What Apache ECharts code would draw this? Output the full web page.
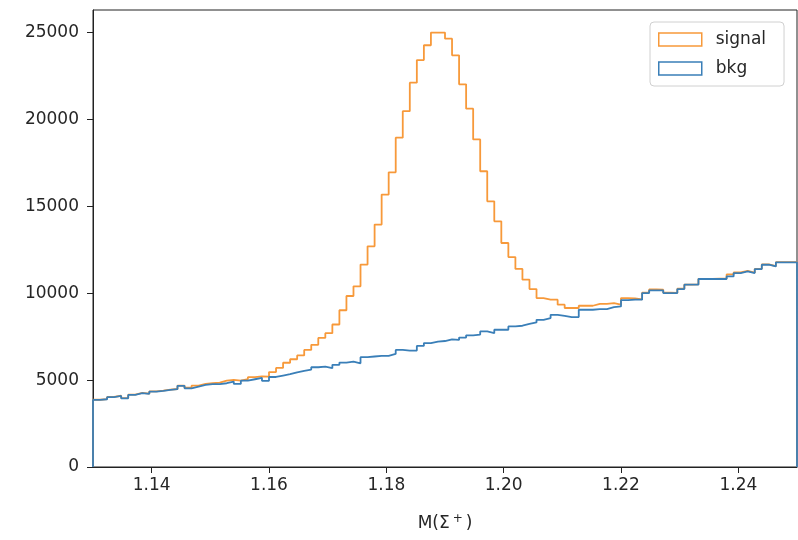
<!DOCTYPE html>
<html>
<head>
<meta charset="utf-8">
<script src="https://cdn.jsdelivr.net/npm/echarts@6/dist/echarts.min.js"></script>
<style>
html,body{margin:0;padding:0;background:#fff;}
#chart{width:798px;height:540px;}
</style>
</head>
<body>
<div id="chart"></div>
<script>
// Histogram binning
const binLow = 1.13;
const binHigh = 1.25;
const nBins = 100;

// Series names
const seriesNames = ['signal', 'bkg'];

// Bin contents
const signalCounts = [
  3870, 3910, 4030, 4100, 3960, 4160, 4260, 4220, 4350, 4390,
  4450, 4490, 4680, 4560, 4680, 4780, 4820, 4860, 4970, 5010,
  4970, 5050, 5170, 5210, 5200, 5460, 5700, 6000, 6200, 6420,
  6740, 7030, 7430, 7700, 8200, 9020, 9840, 10400, 11650, 12700,
  13950, 15680, 16960, 18950, 20480, 22120, 23420, 24270, 25000, 25000,
  24650, 23690, 22020, 20620, 18850, 17020, 15290, 14140, 12890, 12080,
  11400, 10780, 10240, 9720, 9630, 9630, 9340, 9150, 9150, 9280,
  9280, 9390, 9390, 9430, 9340, 9720, 9700, 9650, 10030, 10220,
  10200, 10030, 10020, 10260, 10500, 10510, 10830, 10830, 10840, 10840,
  11080, 11200, 11290, 11180, 11400, 11660, 11560, 11790, 11790, 11790
];
const bkgCounts = [
  3860, 3900, 4020, 4090, 3950, 4150, 4250, 4210, 4340, 4380,
  4440, 4480, 4670, 4530, 4630, 4730, 4770, 4770, 4820, 4920,
  4780, 4970, 5050, 5130, 4960, 5180, 5260, 5340, 5450, 5530,
  5610, 5740, 5780, 5690, 5880, 6010, 6070, 5970, 6320, 6360,
  6400, 6400, 6510, 6740, 6700, 6700, 6970, 7130, 7220, 7250,
  7350, 7310, 7450, 7580, 7620, 7800, 7700, 7900, 7900, 8090,
  8130, 8240, 8320, 8470, 8570, 8760, 8700, 8630, 8630, 9050,
  9050, 9090, 9090, 9200, 9240, 9600, 9630, 9630, 10010, 10160,
  10160, 10010, 10010, 10240, 10490, 10490, 10820, 10820, 10820, 10820,
  10970, 11160, 11260, 11160, 11390, 11640, 11540, 11780, 11780, 11780
];

// Axis ticks
const xTicks = [1.14, 1.16, 1.18, 1.20, 1.22, 1.24];
const xTickLabels = ['1.14', '1.16', '1.18', '1.20', '1.22', '1.24'];
const yTicks = [0, 5000, 10000, 15000, 20000, 25000];
const yMax = 26300;
const xTitle = 'M(Σ{sup|+}{n|)}';

function stepPoints(counts) {
  const w = (binHigh - binLow) / nBins;
  const pts = [[binLow, 0]];
  for (let i = 0; i < counts.length; i++) {
    pts.push([+(binLow + i * w).toFixed(6), counts[i]]);
  }
  pts.push([binHigh, 0]);
  return pts;
}

const colors = { signal: '#f7993a', bkg: '#3a7fb8' };
const FONT = 'DejaVu Sans';
const FS = 17;
const TXT = '#262626';
const chart = echarts.init(document.getElementById('chart'), null, { renderer: 'canvas' });

chart.setOption({
  animation: false,
  backgroundColor: '#fff',
  grid: {
    left: 93, right: 1, top: 10, bottom: 73,
    show: true, borderColor: '#222', borderWidth: 1, backgroundColor: 'transparent'
  },
  legend: {
    orient: 'vertical',
    left: 650, top: 22,
    icon: 'rect',
    itemWidth: 43, itemHeight: 13,
    itemGap: 12,
    padding: [9, 18, 9, 8],
    backgroundColor: '#fff',
    borderColor: '#d0d0d0', borderWidth: 1, borderRadius: 4,
    textStyle: { fontFamily: FONT, fontSize: FS, color: TXT, padding: [0, 0, 0, 9] },
    data: [
      { name: seriesNames[0], itemStyle: { color: 'rgba(0,0,0,0)', borderColor: colors.signal, borderWidth: 1.5 } },
      { name: seriesNames[1], itemStyle: { color: 'rgba(0,0,0,0)', borderColor: colors.bkg, borderWidth: 1.5 } }
    ]
  },
  xAxis: {
    type: 'value',
    min: binLow, max: binHigh,
    name: xTitle,
    nameLocation: 'middle',
    nameGap: 46,
    nameTextStyle: {
      fontFamily: FONT, fontSize: FS, color: TXT,
      rich: {
        sup: { fontFamily: FONT, fontSize: 12, color: TXT, padding: [0, 3, 9, 3] },
        n: { fontFamily: FONT, fontSize: FS, color: TXT }
      }
    },
    axisLine: { show: true, onZero: false, lineStyle: { color: '#222', width: 1 } },
    axisTick: { show: true, length: 6, lineStyle: { color: '#222' }, customValues: xTicks },
    axisLabel: {
      fontFamily: FONT, fontSize: FS, color: TXT, margin: 10,
      customValues: xTicks,
      formatter: function (v) {
        const idx = xTicks.findIndex(t => Math.abs(t - v) < 1e-9);
        return idx >= 0 ? xTickLabels[idx] : '';
      }
    },
    splitLine: { show: false }
  },
  yAxis: {
    type: 'value',
    min: 0, max: yMax,
    axisLine: { show: true, lineStyle: { color: '#222', width: 1 } },
    axisTick: { show: true, length: 6, lineStyle: { color: '#222' }, customValues: yTicks },
    axisLabel: {
      fontFamily: FONT, fontSize: FS, color: TXT, margin: 14,
      customValues: yTicks,
      formatter: function (v) { return String(v); }
    },
    splitLine: { show: false }
  },
  series: [
    {
      name: seriesNames[0], type: 'line', step: 'end', showSymbol: false,
      data: stepPoints(signalCounts),
      lineStyle: { color: colors.signal, width: 1.8 },
      itemStyle: { color: colors.signal },
      z: 2
    },
    {
      name: seriesNames[1], type: 'line', step: 'end', showSymbol: false,
      data: stepPoints(bkgCounts),
      lineStyle: { color: colors.bkg, width: 1.8 },
      itemStyle: { color: colors.bkg },
      z: 3
    }
  ]
});
</script>
</body>
</html>
